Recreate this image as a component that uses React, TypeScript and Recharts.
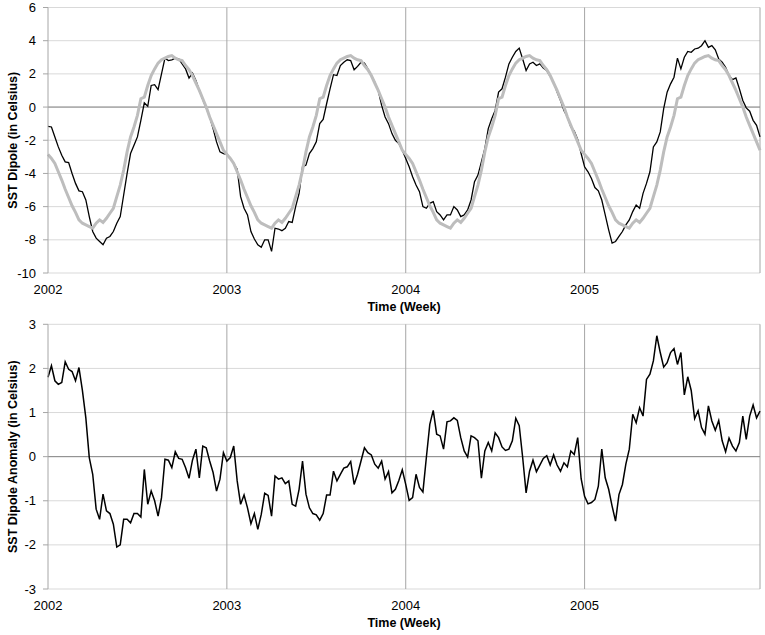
import { LineChart, Line, XAxis, YAxis, CartesianGrid, ReferenceLine } from 'recharts';

const years = ['2002', '2003', '2004', '2005'];
const yearStarts = [0, 52, 104, 156];
const lastWeek = 207;

const dipoleTicks = [-10, -8, -6, -4, -2, 0, 2, 4, 6];
const anomalyTicks = [-3, -2, -1, 0, 1, 2, 3];

// weekly SST dipole, one list per year
const dipole2002 = [
  -1.16, -1.2, -1.8, -2.4, -2.9, -3.3, -3.35, -4.0, -4.6, -5.05,
  -5.1, -5.6, -6.6, -7.5, -7.9, -8.1, -8.3, -7.9, -7.8, -7.5,
  -7.0, -6.6, -5.3, -4.0, -2.8, -2.3, -1.8, -0.8, 0.25, 0.05,
  1.3, 1.35, 1.05, 2.0, 2.95, 2.8, 2.85, 2.95, 2.9, 2.6,
  2.3, 1.75, 2.05, 1.6, 1.0, 0.45, -0.05, -0.6, -1.3, -2.1,
  -2.7, -2.8,
];
const dipole2003 = [
  -2.85, -3.1, -3.4, -3.75, -5.4, -6.1, -6.5, -7.5, -7.95, -8.3,
  -8.45, -8.0, -8.0, -8.7, -7.3, -7.35, -7.45, -7.3, -6.9, -6.95,
  -6.0, -5.2, -3.6, -3.5, -2.8, -2.5, -2.1, -1.0, -0.75, 0.2,
  1.1, 1.95, 1.9, 2.5, 2.7, 2.85, 2.8, 2.25, 2.45, 2.7,
  2.65, 2.3, 1.9, 1.5, 1.0, 0.1, -0.6, -1.0, -1.6, -2.0,
  -2.2, -2.6,
];
const dipole2004 = [
  -3.1, -3.6, -4.2, -4.7, -5.1, -6.0, -6.1, -5.8, -5.7, -6.3,
  -6.5, -6.8, -6.5, -6.5, -6.0, -6.2, -6.6, -6.5, -6.2, -5.6,
  -4.5, -4.1, -3.3, -2.5, -1.3, -0.7, -0.2, 0.9, 1.1, 1.8,
  2.6, 3.0, 3.35, 3.55, 2.9, 2.2, 2.6, 2.7, 2.5, 2.6,
  2.35, 2.2, 1.85, 1.5, 0.9, 0.4, -0.2, -0.6, -1.2, -1.45,
  -1.95, -2.8,
];
const dipole2005 = [
  -3.6, -3.9, -4.3, -4.85, -5.05, -5.6, -6.5, -7.4, -8.2, -8.1,
  -7.8, -7.5, -7.1, -6.8, -6.3, -5.9, -6.1, -5.2, -4.6, -3.9,
  -2.4, -2.1, -1.5, -0.1, 0.9, 1.4, 1.8, 2.95, 2.3, 3.0,
  3.35, 3.3, 3.5, 3.55, 3.7, 4.0, 3.6, 3.7, 3.45, 2.9,
  2.7, 2.4, 1.9, 1.65, 1.75, 1.1, 0.4, -0.05, -0.25, -0.8,
  -1.1, -1.8,
];

// weekly mean cycle (grey line), the same curve every year
const climatology = [
  -2.85, -3.1, -3.4, -3.9, -4.4, -4.95, -5.45, -5.95, -6.35, -6.8,
  -7.0, -7.1, -7.2, -7.3, -7.0, -6.8, -6.95, -6.7, -6.4, -6.1,
  -5.4, -4.7, -3.8, -2.7, -1.8, -1.2, -0.5, 0.5, 0.6, 1.3,
  1.9, 2.3, 2.65, 2.85, 2.95, 3.05, 3.1, 2.95, 2.85, 2.8,
  2.5, 2.25, 1.9, 1.45, 1.0, 0.5, 0.0, -0.6, -1.1, -1.6,
  -2.1, -2.6,
];

// weekly dipole anomaly, one list per year
const anomaly2002 = [
  1.8, 2.06, 1.72, 1.64, 1.68, 2.15, 1.98, 1.93, 1.72, 2.02,
  1.5, 0.88, -0.02, -0.4, -1.19, -1.42, -0.85, -1.23, -1.29, -1.53,
  -2.05, -2.0, -1.42, -1.42, -1.5, -1.29, -1.29, -1.37, -0.29, -1.08,
  -0.78, -1.0, -1.35, -0.93, -0.06, -0.08, -0.25, 0.11, -0.04, -0.06,
  -0.25, -0.49, -0.08, 0.17, -0.48, 0.24, 0.2, -0.1, -0.36, -0.78,
  -0.51, 0.09,
];
const anomaly2003 = [
  -0.1, -0.02, 0.24, -0.55, -1.08, -0.87, -1.16, -1.52, -1.29, -1.65,
  -1.31, -0.83, -0.88, -1.35, -0.44, -0.51, -0.48, -0.61, -0.55, -1.08,
  -1.12, -0.74, -0.1, -0.85, -1.16, -1.29, -1.32, -1.44, -1.29, -0.87,
  -0.87, -0.33, -0.55, -0.4, -0.26, -0.23, -0.11, -0.63, -0.4, -0.1,
  0.2, 0.09, 0.04, -0.17, -0.26, -0.1, -0.51, -0.34, -0.82, -0.74,
  -0.54, -0.3,
];
const anomaly2004 = [
  -0.63, -0.99, -0.93, -0.4, -0.7, -0.8, -0.02, 0.73, 1.05, 0.51,
  0.47, 0.17, 0.79, 0.81, 0.88, 0.82, 0.43, 0.13, -0.01, 0.47,
  0.43, 0.36, -0.49, 0.13, 0.32, 0.13, 0.54, 0.43, 0.22, 0.14,
  0.17, 0.36, 0.87, 0.7, -0.02, -0.82, -0.33, -0.08, -0.34, -0.19,
  -0.04, 0.02, -0.19, 0.04, -0.19, -0.33, -0.14, -0.23, 0.13, 0.05,
  0.43, -0.5,
];
const anomaly2005 = [
  -0.9, -1.07, -1.04, -0.97, -0.67, 0.17, -0.48, -0.74, -1.12, -1.46,
  -0.86, -0.63, -0.17, 0.17, 0.96, 0.77, 1.11, 0.92, 1.75, 1.87,
  2.17, 2.74, 2.36, 2.03, 2.13, 2.36, 2.45, 2.09, 2.36, 1.4,
  1.81, 1.5, 0.86, 1.04, 0.66, 0.51, 1.15, 0.81, 0.6, 0.82,
  0.36, 0.11, 0.42, 0.24, 0.13, 0.32, 0.92, 0.39, 0.92, 1.17,
  0.88, 1.03,
];

const dipole = [...dipole2002, ...dipole2003, ...dipole2004, ...dipole2005];
const anomaly = [...anomaly2002, ...anomaly2003, ...anomaly2004, ...anomaly2005];
const data = dipole.map((v, i) => ({
  week: i,
  dipole: v,
  clim: climatology[i % 52],
  anomaly: anomaly[i],
}));

const font = '"Liberation Sans", Arial, sans-serif';
const tickStyle = { fontSize: 13, fill: '#000', fontFamily: font };
const titleStyle = { fontSize: 12.5, fontWeight: 'bold', fill: '#000', fontFamily: font };
const yearLine = '#a6a6a6';
const gridColor = '#d9d9d9';

function xAxis() {
  return (
    <XAxis
      dataKey="week" type="number" domain={[0, lastWeek]} ticks={yearStarts} interval={0}
      tickFormatter={(v) => years[yearStarts.indexOf(v)] ?? ''}
      axisLine={false} tickLine={false} tickSize={6} tickMargin={6} height={42} tick={tickStyle}
      label={{ value: 'Time (Week)', position: 'insideBottom', offset: 4, style: titleStyle }}
    />
  );
}

function yearLines() {
  return [...yearStarts.slice(1), lastWeek].map((w) => (
    <ReferenceLine key={w} x={w} stroke={yearLine} strokeWidth={1} />
  ));
}

export default function App() {
  return (
    <div style={{ position: 'absolute', left: 0, top: 0, width: 765, height: 635, background: '#fff', fontFamily: font }}>
      <LineChart width={765} height={315} data={data} margin={{ top: 7.5, right: 5, bottom: 0, left: 0 }}>
        <CartesianGrid vertical={false} stroke={gridColor} />
        {xAxis()}
        <YAxis
          type="number" domain={[-10, 6]} ticks={dipoleTicks} interval={0} width={48}
          axisLine={{ stroke: yearLine }} tickLine={{ stroke: yearLine }} tickSize={5} tickMargin={7} tick={tickStyle}
          label={{ value: 'SST Dipole (in Celsius)', angle: -90, position: 'center', dx: -11, style: titleStyle }}
        />
        {yearLines()}
        <ReferenceLine y={0} stroke="#868686" />
        <Line dataKey="dipole" stroke="#000" strokeWidth={1.3} dot={false} isAnimationActive={false} />
        <Line dataKey="clim" stroke="#bdbdbd" strokeWidth={3} dot={false} isAnimationActive={false} />
      </LineChart>
      <LineChart width={765} height={316} data={data} margin={{ top: 9.3, right: 5, bottom: 0, left: 0 }}>
        <CartesianGrid vertical={false} stroke={gridColor} />
        {xAxis()}
        <YAxis
          type="number" domain={[-3, 3]} ticks={anomalyTicks} interval={0} width={48}
          axisLine={{ stroke: yearLine }} tickLine={{ stroke: yearLine }} tickSize={5} tickMargin={7} tick={tickStyle}
          label={{ value: 'SST Dipole Anomaly (in Celsius)', angle: -90, position: 'center', dx: -11, style: titleStyle }}
        />
        {yearLines()}
        <ReferenceLine y={0} stroke="#868686" />
        <Line dataKey="anomaly" stroke="#000" strokeWidth={1.5} dot={false} isAnimationActive={false} />
      </LineChart>
    </div>
  );
}
